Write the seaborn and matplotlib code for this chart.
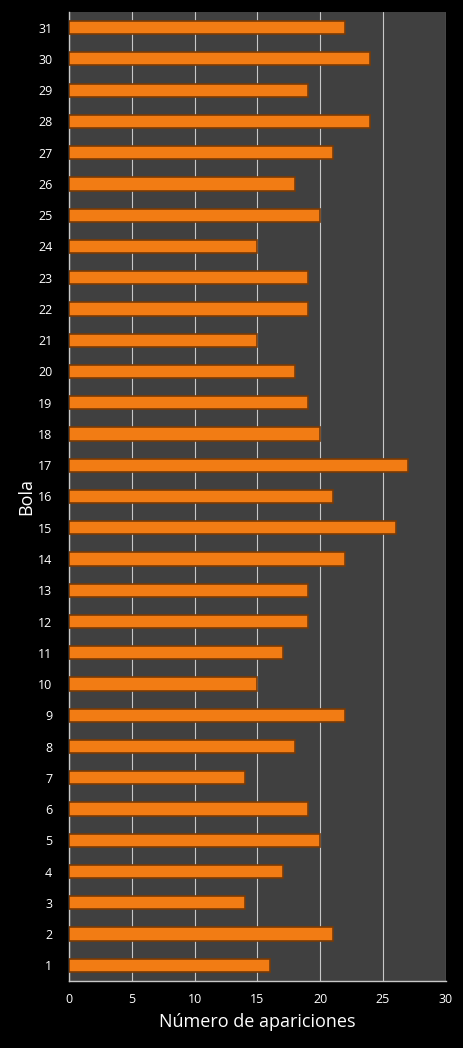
import matplotlib
matplotlib.use("Agg")
import matplotlib.pyplot as plt
import pandas as pd
import seaborn as sns

bolas = [str(i) for i in range(1, 32)]
apariciones = [16, 21, 14, 17, 20, 19, 14, 18, 22, 15,
               17, 19, 19, 22, 26, 21, 27, 20, 19, 18,
               15, 19, 19, 15, 20, 18, 21, 24, 19, 24, 22]
x_ticks = [0, 5, 10, 15, 20, 25, 30]

BG = "#000000"
PLOT_BG = "#404040"
ORANGE = "#f27c14"
EDGE = "#7a3a05"


def plot():
    df = pd.DataFrame({"Bola": bolas, "apariciones": apariciones})
    sns.set_style("dark")
    plt.rcParams['font.family'] = ['Open Sans', 'DejaVu Sans']
    fig = plt.figure(figsize=(4.63, 10.48), dpi=100, facecolor=BG)
    ax = fig.add_axes([0.149, 0.064, 0.814, 0.9245])
    ax.set_facecolor(PLOT_BG)
    order = bolas[::-1]
    sns.barplot(data=df, x="apariciones", y="Bola", order=order, orient="h",
                color=ORANGE, width=0.42, edgecolor=EDGE, linewidth=1.2,
                saturation=1, ax=ax, zorder=3)
    ax.set_xlim(0, 30)
    ax.set_xticks(x_ticks)
    ax.xaxis.grid(True, color="#c8c8c8", linewidth=0.8, zorder=0)
    ax.yaxis.grid(False)
    ax.set_axisbelow(True)
    for s in ["top", "right"]:
        ax.spines[s].set_visible(False)
    for s in ["left", "bottom"]:
        ax.spines[s].set_visible(True)
        ax.spines[s].set_color("#c8c8c8")
        ax.spines[s].set_linewidth(1.0)
    ax.tick_params(axis="both", colors="white", labelsize=9, length=0)
    ax.tick_params(axis="y", pad=12)
    ax.tick_params(axis="x", pad=9)
    ax.set_xlabel("Número de apariciones", color="white", fontsize=13, labelpad=5)
    ax.set_ylabel("Bola", color="white", fontsize=13, labelpad=2)
    fig.savefig("out.png", dpi=100, facecolor=BG)


if __name__ == "__main__":
    plot()
